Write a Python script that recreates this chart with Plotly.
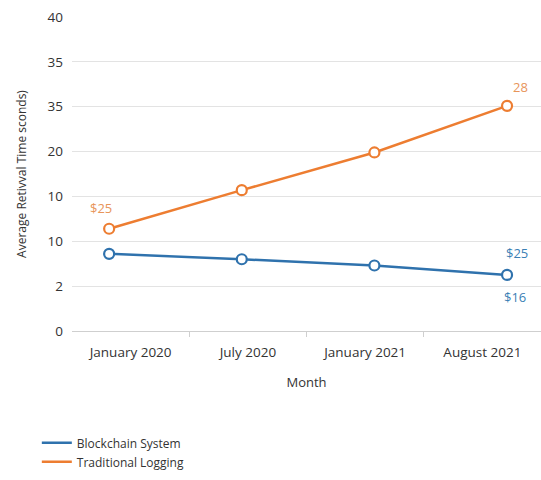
import plotly.graph_objects as go

months = ["January 2020", "July 2020", "January 2021", "August 2021"]
blockchain = [8.6, 8.0, 7.3, 6.25]
traditional = [11.4, 15.7, 19.9, 25.1]
ytick_vals = [0, 5, 10, 15, 20, 25, 30, 35]
ytick_text = ["0", "2", "10", "10", "20", "35", "35", "40"]

BLUE = "#2f72ad"
ORANGE = "#ed7d31"
FONT = "Open Sans"

fig = go.Figure()
for name, vals, col in [("Blockchain System", blockchain, BLUE),
                        ("Traditional Logging", traditional, ORANGE)]:
    fig.add_trace(go.Scatter(
        x=months, y=vals, name=name, mode="lines",
        line=dict(color=col, width=2.5), legendgroup=name,
    ))
    fig.add_trace(go.Scatter(
        x=months, y=vals, name=name, mode="markers", showlegend=False,
        legendgroup=name,
        marker=dict(size=10, color="white", line=dict(color=col, width=2.2)),
    ))

# empty trace that only registers the category-label axis
fig.add_trace(go.Scatter(x=[], y=[], xaxis="x2", yaxis="y", showlegend=False,
                         hoverinfo="skip"))

ann = [
    dict(x=months[0], y=traditional[0], text="$25", xshift=-8, yshift=21, color="#e8955a"),
    dict(x=months[-1], y=traditional[-1], text="28", xshift=13, yshift=19, color="#e8955a"),
    dict(x=months[-1], y=blockchain[-1], text="$25", xshift=10, yshift=22, color="#3b7fb5"),
    dict(x=months[-1], y=blockchain[-1], text="$16", xshift=8, yshift=-22, color="#3b7fb5"),
]
for a in ann:
    fig.add_annotation(x=a["x"], y=a["y"], text=a["text"], showarrow=False,
                       xshift=a["xshift"], yshift=a["yshift"],
                       font=dict(family=FONT, size=13, color=a["color"]))

fig.update_layout(
    width=541, height=480,
    margin=dict(l=72, r=0, t=17, b=149),
    paper_bgcolor="white", plot_bgcolor="white",
    font=dict(family=FONT, size=12, color="#444"),
    showlegend=True,
    legend=dict(orientation="v", x=-0.075, xanchor="left", y=-0.31, yanchor="top",
                font=dict(family=FONT, size=12, color="#333"),
                itemwidth=30, tracegroupgap=0),
    xaxis=dict(
        type="category", range=[-0.28, 3.256], showgrid=False, showline=False,
        showticklabels=False, ticks="", zeroline=False,
    ),
    xaxis2=dict(
        overlaying="x", anchor="y", side="bottom", type="linear",
        range=[-0.5, 3.5], tickmode="array", tickvals=[0, 1, 2, 3], ticktext=months,
        showgrid=False, zeroline=False, showline=True, linecolor="#cfcfcf", linewidth=1,
        ticks="", ticklabelstandoff=9,
        minor=dict(tickmode="array", tickvals=[0.5, 1.5, 2.5], ticks="outside",
                   ticklen=5, tickcolor="#cfcfcf", showgrid=False),
        tickfont=dict(family=FONT, size=13.5, color="#333"),
        title=dict(text="Month", font=dict(family=FONT, size=13, color="#333"), standoff=17),
    ),
)
fig.update_yaxes(
    range=[0, 35], tickvals=ytick_vals, ticktext=ytick_text,
    showgrid=True, gridcolor="#e3e3e3", gridwidth=1, zeroline=False, showline=False,
    ticks="", ticklabelstandoff=8,
    tickfont=dict(family=FONT, size=13.5, color="#333"),
    title=dict(text="Average Retivval Time sconds)", font=dict(family=FONT, size=12, color="#333"), standoff=18),
)

fig.write_html("out.html")
